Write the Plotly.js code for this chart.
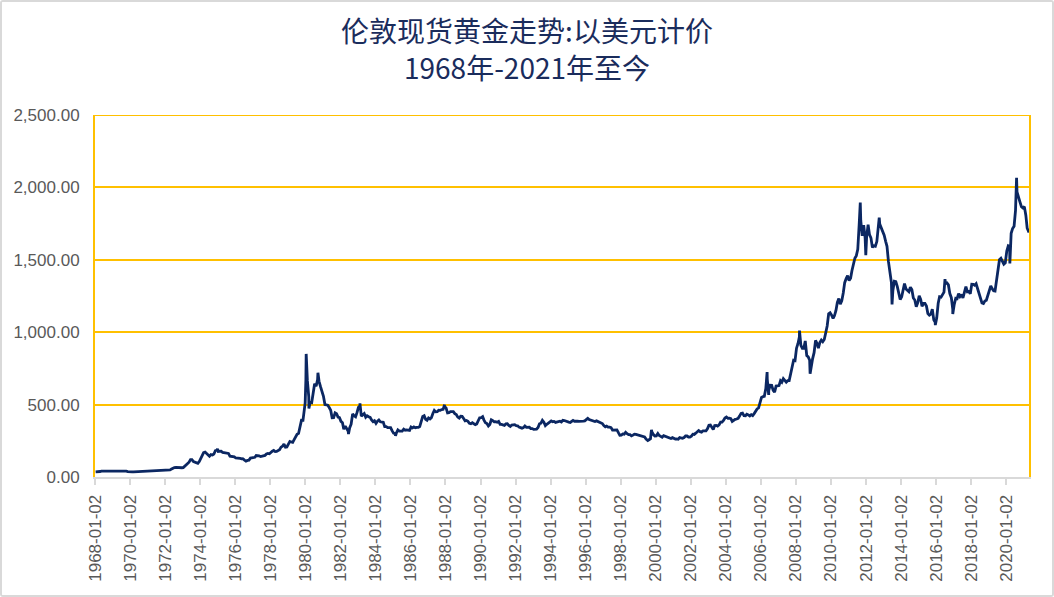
<!DOCTYPE html>
<html>
<head>
<meta charset="utf-8">
<script src="https://cdn.plot.ly/plotly-3.0.1.min.js"></script>
<style>
html,body{margin:0;padding:0;background:#fff;}
#frame{width:1050px;height:593px;border:2px solid #d9d9d9;border-radius:3px;overflow:hidden;}
#chart{width:1050px;height:593px;}
</style>
</head>
<body>
<div id="frame"><div id="chart"></div></div>
<script>
// Monthly London gold fix levels (USD/oz), one row per year
const gold1968_1969 = [35.2,35.2,37.6,38.0,40.9,41.1,39.5,39.6,40.5,39.3,40.5,41.9,
  42.3,42.4,43.4,43.3,43.5,41.5,42.0,41.1,40.6,40.4,37.5,35.2];
const gold1970s = [
  34.9,35.0,35.1,35.6,35.9,35.5,35.3,35.4,36.2,37.5,37.4,37.4,
  37.9,38.7,38.9,39.0,40.5,40.1,41.0,42.7,42.0,42.5,42.9,43.5,
  45.8,48.3,48.3,49.0,54.6,62.1,65.7,67.0,65.5,64.9,62.9,63.9,
  65.1,74.2,84.4,90.5,102.0,120.1,120.2,106.8,103.0,100.1,94.8,106.7,
  129.2,150.2,168.4,172.2,163.3,154.1,143.0,154.6,151.8,158.8,181.7,183.8,
  176.3,179.6,178.2,170.0,167.2,164.2,165.1,163.0,144.1,142.8,142.2,139.3,
  131.3,131.1,132.4,128.3,126.0,125.0,117.3,109.8,114.5,116.4,130.3,133.6,
  132.3,136.3,148.3,149.2,146.7,140.8,143.4,145.0,149.3,158.7,162.4,160.5,
  173.2,178.2,183.6,175.1,176.3,183.6,188.6,206.2,212.4,227.2,206.1,207.8,
  227.3,245.7,242.1,239.2,257.6,279.1,294.7,300.8,355.1,391.7,391.4,455.1];
const gold1980s = [
  675.3,665.3,553.6,517.4,513.8,600.7,644.3,626.5,673.6,661.2,623.4,594.9,
  557.4,500.5,499.8,495.8,479.7,460.8,409.3,410.2,443.6,437.8,413.4,410.1,
  384.4,374.2,330.3,350.5,333.9,314.9,339.1,364.4,435.6,422.5,415.9,444.3,
  481.5,491.0,420.1,432.8,438.1,412.8,422.7,416.3,411.8,393.6,381.6,388.0,
  370.9,386.0,394.2,381.4,377.4,377.9,348.2,348.0,341.1,340.2,341.2,320.2,
  302.8,299.1,304.0,324.9,316.6,316.8,317.3,330.0,323.5,325.9,325.3,321.8,
  345.4,338.9,345.7,340.4,342.5,342.7,348.5,376.6,418.3,423.3,398.5,391.3,
  408.3,401.1,408.9,438.4,460.2,449.6,450.5,461.3,460.0,465.4,467.6,486.3,
  477.0,442.1,443.6,451.7,451.1,451.8,437.4,431.4,413.3,406.4,420.2,418.7,
  404.0,387.8,390.2,384.4,371.0,367.6,375.0,365.4,361.8,366.9,394.3,409.2];
const gold1990s = [
  410.1,416.8,393.1,374.3,369.1,352.3,362.5,394.8,389.3,380.8,381.6,378.2,
  383.6,363.8,363.3,358.4,356.8,366.7,367.7,356.4,348.8,358.7,360.2,361.7,
  354.5,353.9,344.3,338.6,337.2,340.8,352.7,343.4,345.4,344.4,335.0,334.8,
  329.0,329.4,330.1,342.2,367.1,371.9,392.0,378.9,355.3,364.2,373.8,383.3,
  386.9,381.9,384.1,377.3,381.4,385.6,385.5,380.4,391.4,389.8,384.4,379.3,
  378.6,376.5,382.1,391.0,385.2,387.6,386.2,383.7,383.1,383.1,385.5,387.4,
  400.0,404.8,396.2,392.9,391.9,385.3,383.5,387.5,383.1,381.1,377.9,369.2,
  355.0,346.6,351.8,344.4,343.8,340.8,324.0,324.0,322.8,324.9,306.0,288.7,
  289.1,297.5,295.9,308.4,299.1,292.3,292.9,284.1,289.0,296.0,294.1,291.5,
  287.1,287.3,285.9,282.6,276.4,261.3,256.1,256.7,264.8,310.7,293.2,283.1];
const gold2000s = [
  284.3,299.9,286.4,279.7,275.3,285.7,281.6,274.5,273.7,270.0,266.0,271.5,
  265.5,261.9,263.0,260.5,272.4,270.2,267.5,272.4,283.4,283.1,276.2,275.9,
  281.7,295.5,294.0,302.7,314.5,321.2,313.3,310.3,319.2,316.6,319.2,333.4,
  356.9,359.0,340.6,328.2,355.7,356.4,351.0,359.8,378.9,378.9,389.9,407.6,
  414.0,405.3,406.7,403.0,383.8,392.4,398.1,400.5,405.3,420.5,439.4,441.8,
  424.0,423.4,434.2,428.9,421.9,430.7,424.5,437.9,456.1,469.9,476.7,509.8,
  549.9,555.0,557.1,610.6,676.5,596.2,633.8,632.6,598.2,585.8,627.8,629.8,
  631.2,664.8,654.9,679.4,666.9,655.5,665.3,665.4,712.7,754.6,806.3,803.2,
  889.6,922.3,968.4,909.7,888.7,889.5,939.8,839.0,829.9,806.6,760.9,816.1,
  858.7,943.2,924.3,890.2,928.6,945.7,934.2,949.4,996.6,1043.2,1127.0,1134.7];
const gold2010s = [
  1117.9,1095.4,1113.3,1148.7,1205.4,1232.9,1192.9,1215.8,1271.0,1342.0,1369.9,1390.6,
  1356.4,1372.7,1424.0,1473.8,1510.4,1528.7,1572.8,1755.8,1771.9,1665.2,1738.9,1652.3,
  1656.1,1742.6,1673.8,1650.1,1585.5,1596.7,1593.9,1626.0,1744.5,1746.6,1721.6,1684.8,
  1670.0,1627.6,1592.9,1485.1,1413.5,1342.4,1285.5,1351.7,1348.6,1316.6,1275.8,1225.4,
  1244.3,1299.6,1336.1,1298.5,1288.7,1279.1,1310.6,1295.1,1236.6,1222.5,1176.3,1202.3,
  1251.8,1227.1,1178.6,1198.9,1198.6,1181.5,1128.3,1117.9,1124.8,1159.2,1086.4,1068.3,
  1097.9,1199.5,1245.1,1242.3,1260.9,1276.4,1336.7,1340.2,1326.6,1266.6,1238.4,1157.4,
  1192.1,1234.2,1231.1,1266.9,1246.0,1260.3,1236.8,1283.0,1314.1,1279.5,1281.9,1264.5,
  1331.3,1330.7,1324.7,1334.8,1303.5,1281.6,1237.7,1201.7,1198.4,1215.4,1220.7,1250.4,
  1291.8,1320.1,1300.9,1285.9,1283.7,1359.0,1412.9,1500.4,1510.6,1494.8,1470.0,1479.1];
const gold2020s = [
  1560.7,1597.1,1591.9,1683.2,1715.9,1732.2,1840.8,1968.6,1921.9,1900.3,1866.3,1858.4,
  1867.2,1808.2,1718.2];

// Notable daily highs / lows visible in the chart
const extremeDates = ['1974-12-30','1979-12-31','1980-01-21','1980-03-18','1980-09-22',
  '1982-06-21','1983-02-15','1985-02-25','1987-12-14','1999-07-20','1999-10-05',
  '2006-05-12','2006-06-14','2008-03-17','2008-10-24','2011-09-05','2011-12-29',
  '2012-10-04','2013-06-28','2015-12-17','2016-07-06','2016-12-15','2020-03-19',
  '2020-08-06','2021-04-22'];
const extremeValues = [195,512,850,474,720,297,509,285,499,252,325,725,567,1011,713,
  1895,1531,1792,1192,1049,1366,1125,1474,2067,1688];

const yTickValues = [0,500,1000,1500,2000,2500];

// build series
const monthly = [].concat(gold1968_1969,gold1970s,gold1980s,gold1990s,gold2000s,gold2010s,gold2020s);
const pts = [];
monthly.forEach((v,i)=>{
  const y = 1968 + Math.floor(i/12), m = (i%12)+1;
  pts.push([y+'-'+String(m).padStart(2,'0')+'-15', v]);
});
extremeDates.forEach((d,i)=>pts.push([d, extremeValues[i]]));
pts.sort((a,b)=>a[0]<b[0]?-1:a[0]>b[0]?1:0);

const gold = '#FFC000';
const tickFont = {family:'Liberation Sans, Arial, sans-serif', size:17, color:'#595959'};

Plotly.newPlot('chart', [{
  type:'scatter', mode:'lines',
  x: pts.map(p=>p[0]), y: pts.map(p=>p[1]),
  line:{color:'#0b2762', width:2.8},
  hoverinfo:'skip'
}], {
  width:1050, height:593,
  margin:{l:93, r:23, t:113, b:118},
  paper_bgcolor:'#fff', plot_bgcolor:'#fff',
  showlegend:false,
  title:{
    text:'伦敦现货黄金走势:以美元计价<br>1968年-2021年至今',
    font:{family:'Noto Sans CJK SC, sans-serif', size:28, color:'#1a2c5c'},
    x:0.5, xref:'container', xanchor:'center',
    y:0.932, yref:'container', yanchor:'top'
  },
  shapes:[{type:'line', xref:'paper', yref:'y', x0:0, x1:1, y0:2500, y1:2500,
    line:{color:gold, width:2}}],
  xaxis:{
    type:'date',
    range:['1968-01-02','2021-04-22'],
    tick0:'1968-01-02', dtick:'M24', tickformat:'%Y-%m-%d',
    tickangle:-90, tickfont:tickFont,
    ticks:'outside', ticklen:6, tickwidth:2, tickcolor:'#d9d9d9',
    ticklabelstandoff:3,
    showline:true, linecolor:'#d9d9d9', linewidth:2,
    showgrid:false, zeroline:false, fixedrange:true
  },
  yaxis:{
    range:[0,2500], tickvals:yTickValues, tickformat:',.2f',
    tickfont:tickFont, ticks:'', ticklabelstandoff:10,
    showgrid:true, gridcolor:gold, gridwidth:2,
    showline:true, linecolor:gold, linewidth:2, mirror:true,
    zeroline:false, fixedrange:true
  }
}, {displayModeBar:false, staticPlot:true});
</script>
</body>
</html>
